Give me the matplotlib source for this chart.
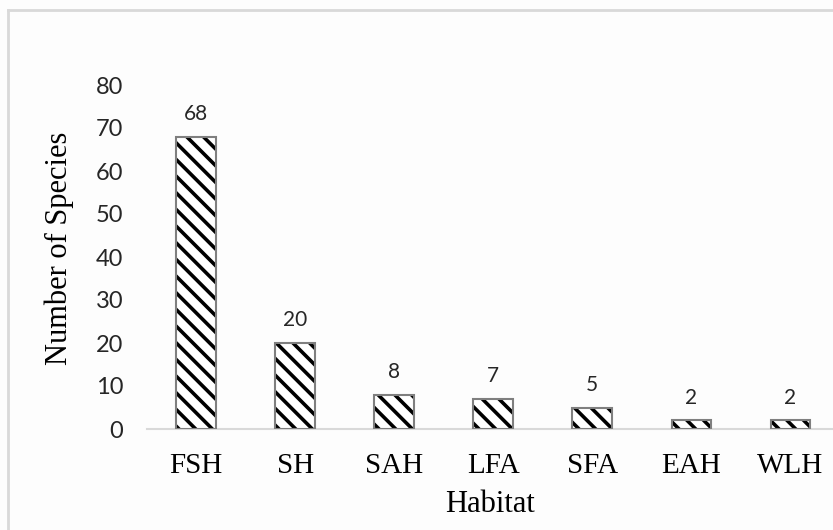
import numpy as np
from matplotlib import pyplot as plt
from matplotlib.lines import Line2D

habitat = ['FSH', 'SH', 'SAH', 'LFA', 'SFA', 'EAH', 'WLH']
species = [68, 20, 8, 7, 5, 2, 2]
yticks = [0, 10, 20, 30, 40, 50, 60, 70, 80]

plt.rcParams['hatch.linewidth'] = 2.6

fig = plt.figure(figsize=(8.33, 5.30), dpi=100)
fig.patch.set_facecolor('#fdfdfd')
# axes placed in pixels: left 147, right 833, bottom y=429, top y=85
ax = fig.add_axes([147/833, 101/530, 686/833, 344/530])
ax.set_facecolor('#fdfdfd')

x = np.arange(len(habitat))
# hatch takes the edge colour, so draw the black hatch first, then the gray outline
ax.bar(x, species, width=0.4, color='white', edgecolor='black',
       linewidth=0, hatch='\\\\', zorder=2)
ax.bar(x, species, width=0.4, fill=False, edgecolor='#7f7f7f',
       linewidth=1.5, zorder=3)

for xi, v in zip(x, species):
    ax.annotate(str(v), (xi, v), xytext=(0, 9), textcoords='offset points',
                ha='center', va='bottom', fontsize=15, family='Lato', color='#262626')

ax.set_xlim(-0.495, 6.43)
ax.set_ylim(0, 80)
ax.set_yticks(yticks)
ax.set_xticks(x)
ax.set_xticklabels(habitat, family='Liberation Serif', fontsize=21)
ax.set_yticklabels([str(t) for t in yticks], family='Lato', fontsize=17, color='#262626')
ax.tick_params(axis='both', length=0)
ax.tick_params(axis='y', pad=17)
ax.tick_params(axis='x', pad=17)

for s in ['top', 'right', 'left']:
    ax.spines[s].set_visible(False)
ax.spines['bottom'].set_color('#d9d9d9')
ax.spines['bottom'].set_linewidth(1.5)
ax.spines['bottom'].set_zorder(1)

ax.set_xlabel('Habitat', family='Liberation Serif', fontsize=22, labelpad=8)
ax.set_ylabel('Number of Species', family='Liberation Serif', fontsize=22)
ax.yaxis.set_label_coords(-0.106, 0.526)

# light gray border of the original picture (top and left only)
fig.add_artist(Line2D([8/833, 8/833], [0, 1 - 10/530], transform=fig.transFigure,
                      color='#d9d9d9', linewidth=2))
fig.add_artist(Line2D([8/833, 1], [1 - 10/530, 1 - 10/530], transform=fig.transFigure,
                      color='#d9d9d9', linewidth=2))

fig.savefig('out.png', dpi=100, facecolor=fig.get_facecolor())
